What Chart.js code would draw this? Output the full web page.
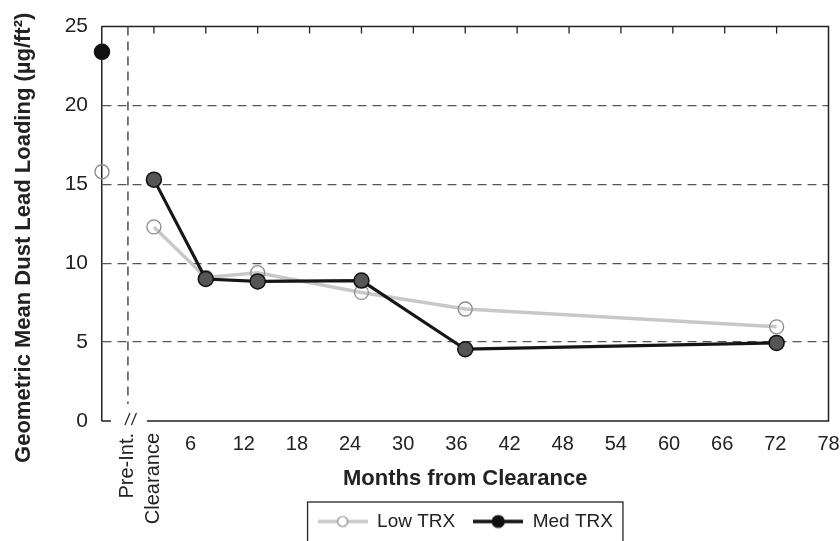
<!DOCTYPE html>
<html>
<head>
<meta charset="utf-8">
<script src="https://cdn.jsdelivr.net/npm/chart.js@4.4.1/dist/chart.umd.min.js"></script>
<style>
  html, body { margin: 0; padding: 0; background: #fff; }
  #wrap { position: relative; width: 840px; height: 541px; }
</style>
</head>
<body>
<div id="wrap"><canvas id="chart"></canvas></div>
<script>
// follow-up visits, months from clearance
const months = [0, 6, 12, 24, 36, 72];
const lowTrx = [12.3, 9.1, 9.4, 8.15, 7.1, 5.97];
const medTrx = [15.3, 9.0, 8.85, 8.9, 4.55, 4.95];
// pre-intervention values sit on the left edge of the axis
const preIntMonth = -6;
const preIntLow = 15.8;
const preIntMed = 23.4;
const breakMonth = -3; // dashed divider / axis break
const monthTicks = [6, 12, 18, 24, 30, 36, 42, 48, 54, 60, 66, 72, 78];
const sideLabels = ['Pre-Int.', 'Clearance'];
const sideLabelMonths = [-3, 0];
const yTicks = [0, 5, 10, 15, 20, 25];
const yTitle = 'Geometric Mean Dust Lead Loading (µg/ft²)';

const FONT = '"Liberation Sans", Arial, Helvetica, sans-serif';
Chart.defaults.font.family = FONT;
Chart.defaults.color = '#222';

function series(pre, vals) {
    return [{ x: preIntMonth, y: pre }, { x: breakMonth, y: null }]
        .concat(months.map((m, i) => ({ x: m, y: vals[i] })));
}

// little line + marker swatch for the legend
function legendIcon(lineColor, lineWidth, fill, stroke, r) {
    const c = document.createElement('canvas');
    c.width = 50;
    c.height = 18;
    const g = c.getContext('2d');
    g.strokeStyle = lineColor;
    g.lineWidth = lineWidth;
    g.beginPath();
    g.moveTo(0, 9);
    g.lineTo(50, 9);
    g.stroke();
    g.beginPath();
    g.arc(25, 9, r, 0, Math.PI * 2);
    g.fillStyle = fill;
    g.fill();
    g.strokeStyle = stroke;
    g.lineWidth = 1.2;
    g.stroke();
    return c;
}
const legendIcons = [
    legendIcon('#c8c8c8', 3.5, '#fff', '#8c8c8c', 5),
    legendIcon('#111', 3.5, '#111', '#111', 6)
];

const frame = {
    id: 'frame',
    afterLayout(chart) {
        // center legend under the plot area
        const lg = chart.legend, a = chart.chartArea;
        lg.left = a.left;
        lg.right = a.right;
    },
    beforeDatasetsDraw(chart) {
        const { ctx, chartArea: a, scales: { x } } = chart;
        const bx = x.getPixelForValue(breakMonth);
        ctx.save();
        ctx.strokeStyle = '#222';
        ctx.lineWidth = 1.5;
        ctx.beginPath();
        ctx.moveTo(a.left, a.top);
        ctx.lineTo(a.right, a.top);
        ctx.lineTo(a.right, a.bottom);
        ctx.lineTo(bx + 19, a.bottom);
        ctx.moveTo(bx - 17, a.bottom);
        ctx.lineTo(a.left, a.bottom);
        ctx.stroke();
        // the // break
        ctx.lineWidth = 1.2;
        ctx.beginPath();
        [bx - 0.5, bx + 6].forEach(sx => {
            ctx.moveTo(sx - 2.5, a.bottom + 4);
            ctx.lineTo(sx + 2.5, a.bottom - 8);
        });
        ctx.stroke();
        // inward ticks on top edge
        ctx.lineWidth = 1.3;
        ctx.beginPath();
        x.ticks.forEach(t => {
            if (t.value >= 0 && t.value < x.max) {
                const px = x.getPixelForValue(t.value);
                ctx.moveTo(px, a.top);
                ctx.lineTo(px, a.top + 7);
            }
        });
        ctx.stroke();
        // dashed divider
        ctx.setLineDash([9, 6]);
        ctx.strokeStyle = '#333';
        ctx.beginPath();
        ctx.moveTo(bx, a.top);
        ctx.lineTo(bx, a.bottom - 17);
        ctx.stroke();
        ctx.restore();
    },
    afterDraw(chart) {
        const { ctx, chartArea: a, scales: { x } } = chart;
        ctx.save();
        ctx.fillStyle = '#222';
        // y title sits a little below the plot's middle in the original
        ctx.font = 'bold 22px ' + FONT;
        ctx.textAlign = 'center';
        ctx.textBaseline = 'middle';
        ctx.save();
        ctx.translate(24, (a.top + a.bottom) / 2 + 14);
        ctx.rotate(-Math.PI / 2);
        ctx.fillText(yTitle, 0, 0);
        ctx.restore();
        // rotated labels under the break
        ctx.font = '20px ' + FONT;
        ctx.textAlign = 'right';
        sideLabels.forEach((t, i) => {
            ctx.save();
            ctx.translate(x.getPixelForValue(sideLabelMonths[i]), a.bottom + 12);
            ctx.rotate(-Math.PI / 2);
            ctx.fillText(t, 0, 0);
            ctx.restore();
        });
        // box round the legend
        const boxes = chart.legend.legendHitBoxes;
        const left = Math.min(...boxes.map(b => b.left)) - 10;
        const right = Math.max(...boxes.map(b => b.left + b.width)) + 10;
        const top = boxes[0].top - 10;
        ctx.strokeStyle = '#222';
        ctx.lineWidth = 1.3;
        ctx.strokeRect(left, top, right - left, chart.height - top + 5);
        ctx.restore();
    }
};

new Chart(document.getElementById('chart'), {
    type: 'line',
    data: {
        datasets: [
            {
                label: 'Low TRX',
                data: series(preIntLow, lowTrx),
                order: 2,
                clip: false,
                borderColor: '#c8c8c8',
                borderWidth: 3.5,
                backgroundColor: 'rgba(0,0,0,0)',
                pointRadius: 7,
                pointBorderWidth: 1.3,
                pointBorderColor: '#8c8c8c',
                pointBackgroundColor: 'rgba(255,255,255,0)',
                xAxisID: 'x',
                yAxisID: 'y'
            },
            {
                label: 'Med TRX',
                data: series(preIntMed, medTrx),
                order: 1,
                clip: false,
                borderColor: '#161616',
                borderWidth: 3.2,
                backgroundColor: '#555',
                pointRadius: 7.5,
                pointBorderWidth: 1.5,
                pointBorderColor: '#111',
                pointBackgroundColor: c => (c.raw && c.raw.x < 0) ? '#111' : '#555',
                xAxisID: 'x',
                yAxisID: 'y'
            }
        ]
    },
    options: {
        responsive: true,
        maintainAspectRatio: false,
        animation: false,
        events: [],
        layout: {
            padding: { top: 26, right: 0, bottom: 0, left: 0 }
        },
        plugins: {
            tooltip: { enabled: false },
            legend: {
                position: 'bottom',
                labels: {
                    usePointStyle: true,
                    pointStyleWidth: 50,
                    padding: 18,
                    color: '#222',
                    font: { size: 19 },
                    sort: (a, b) => a.datasetIndex - b.datasetIndex,
                    generateLabels: chart => Chart.defaults.plugins.legend.labels.generateLabels(chart)
                        .map(it => Object.assign(it, { pointStyle: legendIcons[it.datasetIndex] }))
                }
            }
        },
        scales: {
            x: {
                type: 'linear',
                display: false,
                min: -6,
                max: 78,
                ticks: { stepSize: 6 }
            },
            xb: {
                type: 'linear',
                position: 'bottom',
                min: -4,
                max: 78,
                afterBuildTicks: s => { s.ticks = monthTicks.map(v => ({ value: v })); },
                afterFit: s => {
                    s.height = 73;
                    s.paddingLeft = 0;
                    s.paddingRight = 11.5; // just half of the "78" label
                },
                grid: { display: false, drawTicks: false },
                border: { display: false },
                ticks: { padding: 11, maxRotation: 0, autoSkip: false, color: '#222', font: { size: 20 } },
                title: {
                    display: true,
                    text: 'Months from Clearance',
                    color: '#222',
                    font: { size: 22, weight: 'bold' },
                    padding: { top: 0, bottom: 2 }
                }
            },
            y: {
                min: 0,
                max: 25,
                afterBuildTicks: s => { s.ticks = yTicks.map(v => ({ value: v })); },
                afterFit: s => { s.width = 102; },
                border: { display: true, color: '#222', width: 1.5, dash: [9, 6] },
                grid: {
                    color: c => (c.tick && (c.tick.value === 0 || c.tick.value === 25)) ? 'rgba(0,0,0,0)' : '#555',
                    lineWidth: 1.3,
                    drawTicks: false
                },
                ticks: { padding: 14, color: '#222', font: { size: 21 } }
            }
        }
    },
    plugins: [frame]
});
</script>
</body>
</html>
